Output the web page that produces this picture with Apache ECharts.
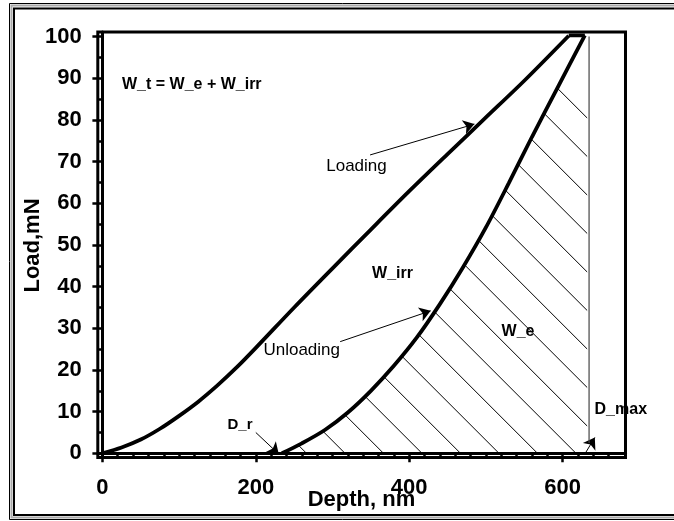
<!DOCTYPE html>
<html><head><meta charset="utf-8">
<script src="https://cdn.jsdelivr.net/npm/echarts@6/dist/echarts.min.js"></script>
<style>html,body{margin:0;padding:0;background:#fff}#c{width:674px;height:521px}</style>
</head><body><div id="c"></div>
<script>
// ---- data ----
const loadingDepth = [0, 25, 50, 75, 100, 125, 150, 175, 200, 250, 300, 350, 400, 450, 500, 550, 608];
const loadingLoad  = [0, 1.4, 3.3, 5.9, 9.0, 12.4, 16.3, 20.6, 25.3, 35.0, 44.4, 53.7, 62.9, 71.8, 80.6, 89.4, 100.2];
const holdDepth = [608, 629];
const holdLoad  = [100.3, 100.3];
const unloadingDepth = [234, 260, 290, 320, 350, 380, 410, 440, 470, 500, 530, 560, 595, 629];
const unloadingLoad  = [0, 2.4, 5.6, 9.8, 15.0, 21.0, 27.8, 35.8, 44.6, 54.2, 64.9, 75.9, 88.3, 100.3];
const dMaxDepth = [634.5, 634.5];
const dMaxLoad  = [100, 2.5];
const hatchTopLoad = 88.3;
const hatchRightDepth = 632;
const xMajorTicks = [0, 200, 400, 600];
const xMinorTicks = [0,20,40,60,80,100,120,140,160,180,200,220,240,260,280,300,320,340,360,380,400,420,440,460,480,500,520,540,560,580,600,620,640,660];
const yMajorTicks = [0,10,20,30,40,50,60,70,80,90,100];
const yMinorTicks = [0,5,10,15,20,25,30,35,40,45,50,55,60,65,70,75,80,85,90,95,100];
// annotation arrows: [fromDepth, fromLoad, toDepth, toLoad]
const arrowLoading   = [349, 71.6, 485, 79.0];
const arrowUnloading = [310, 26.8, 428, 34.2];
const arrowDr        = [200, 5.0, 230, -0.2];
const arrowDmax      = [630.5, 0.3, 642, 3.8];

const FONT = '"Liberation Sans", Arial, sans-serif';
const zip = (a, b) => a.map((v, i) => [v, b[i]]);

// hatch boundary: unloading curve up to hatchTopLoad, then right edge
const hatchPts = zip(unloadingDepth, unloadingLoad).filter(p => p[1] <= hatchTopLoad)
  .concat([[hatchRightDepth, hatchTopLoad], [hatchRightDepth, -0.3], [unloadingDepth[0], -0.3]]);

function makeHatch(spacing, phase) {
  const size = Math.round(spacing * 2);
  const cv = document.createElement('canvas');
  cv.width = size; cv.height = size;
  const ctx = cv.getContext('2d');
  ctx.strokeStyle = '#000'; ctx.lineWidth = 1;
  for (let k = -4; k <= 4; k++) {
    const o = phase + k * spacing;
    ctx.beginPath(); ctx.moveTo(o - 10, -10); ctx.lineTo(o + size + 10, size + 10); ctx.stroke();
  }
  return cv;
}
const hatchTile = makeHatch(38.5, 7.2);

const chart = echarts.init(document.getElementById('c'), null, {renderer: 'canvas'});
const axisLabelStyle = {fontSize: 22, fontWeight: 'bold', color: '#000', fontFamily: FONT};
const arrowLines = [arrowLoading, arrowUnloading, arrowDr, arrowDmax].map(a => [{coord: [a[0], a[1]]}, {coord: [a[2], a[3]]}]);

const lineSeries = (depth, load, w, color, smooth) => ({
  type: 'line', data: zip(depth, load), symbol: 'none', smooth: smooth,
  lineStyle: {color: color, width: w}, z: 5, silent: true
});

chart.setOption({
  animation: false,
  backgroundColor: '#fff',
  grid: {left: 97.8, right: 48.5, top: 32, bottom: 63.5, show: true, borderColor: '#000', borderWidth: 3, backgroundColor: 'transparent'},
  xAxis: [
    {type: 'value', min: -6, max: 682, position: 'bottom',
     axisLine: {lineStyle: {color: '#000', width: 3}},
     axisTick: {customValues: xMajorTicks, length: 9, lineStyle: {color: '#000', width: 2.5}},
     axisLabel: {customValues: xMajorTicks, margin: 19, ...axisLabelStyle},
     splitLine: {show: false}},
    {type: 'value', min: -6, max: 682, position: 'bottom',
     axisLine: {show: false},
     axisTick: {customValues: xMinorTicks, length: 5, lineStyle: {color: '#000', width: 2.5}},
     axisLabel: {show: false}, splitLine: {show: false}}
  ],
  yAxis: [
    {type: 'value', min: -1, max: 101.1, position: 'left',
     axisLine: {lineStyle: {color: '#000', width: 3}},
     axisTick: {customValues: yMajorTicks, length: 10, lineStyle: {color: '#000', width: 2.5}},
     axisLabel: {customValues: yMajorTicks, margin: 16, ...axisLabelStyle},
     splitLine: {show: false}},
    {type: 'value', min: -1, max: 101.1, position: 'left',
     axisLine: {show: false},
     axisTick: {customValues: yMinorTicks, length: 5, lineStyle: {color: '#000', width: 2.5}},
     axisLabel: {show: false}, splitLine: {show: false}}
  ],
  series: [
    {type: 'custom', data: [[0, 0]], z: 1, silent: true, clip: true,
     renderItem: function (params, api) {
       const pts = hatchPts.map(p => api.coord(p));
       return {type: 'polygon', shape: {points: pts, smooth: 0}, style: {fill: {image: hatchTile, repeat: 'repeat'}, stroke: null}};
     }},
    lineSeries(loadingDepth, loadingLoad, 3.8, '#000', 0.3),
    lineSeries(holdDepth, holdLoad, 3.8, '#000', false),
    lineSeries(unloadingDepth, unloadingLoad, 3.8, '#000', 0.3),
    Object.assign(lineSeries(dMaxDepth, dMaxLoad, 1.2, '#444', false), {
      markLine: {silent: true, symbol: ['none', 'arrow'], symbolSize: 11,
        label: {show: false}, lineStyle: {color: '#000', width: 1, type: 'solid'},
        emphasis: {disabled: true}, data: arrowLines}
    })
  ],
  graphic: [
    {type: 'rect', silent: true, shape: {x: 9.5, y: 3.5, width: 700, height: 516}, style: {fill: null, stroke: '#000', lineWidth: 1}},
    {type: 'rect', silent: true, shape: {x: 11.5, y: 5.5, width: 700, height: 512}, style: {fill: null, stroke: '#aaa', lineWidth: 2}},
    {type: 'rect', silent: true, shape: {x: 14, y: 8.5, width: 700, height: 506.5}, style: {fill: null, stroke: '#000', lineWidth: 2}},
    {type: 'text', silent: true, x: 122, y: 85, style: {text: 'W_t = W_e + W_irr', font: 'bold 16px ' + FONT, fill: '#000', align: 'left', verticalAlign: 'middle'}},
    {type: 'text', silent: true, x: 356.5, y: 166, style: {text: 'Loading', font: '17px ' + FONT, fill: '#000', align: 'center', verticalAlign: 'middle'}},
    {type: 'text', silent: true, x: 301.7, y: 350.3, style: {text: 'Unloading', font: '17px ' + FONT, fill: '#000', align: 'center', verticalAlign: 'middle'}},
    {type: 'text', silent: true, x: 392.5, y: 274, style: {text: 'W_irr', font: 'bold 16px ' + FONT, fill: '#000', align: 'center', verticalAlign: 'middle'}},
    {type: 'text', silent: true, x: 518, y: 331.7, style: {text: 'W_e', font: 'bold 16px ' + FONT, fill: '#000', align: 'center', verticalAlign: 'middle'}},
    {type: 'text', silent: true, x: 240, y: 424.7, style: {text: 'D_r', font: 'bold 15px ' + FONT, fill: '#000', align: 'center', verticalAlign: 'middle'}},
    {type: 'text', silent: true, x: 620.8, y: 409.5, style: {text: 'D_max', font: 'bold 16px ' + FONT, fill: '#000', align: 'center', verticalAlign: 'middle'}},
    {type: 'text', silent: true, x: 361.5, y: 500, style: {text: 'Depth, nm', font: 'bold 22px ' + FONT, fill: '#000', align: 'center', verticalAlign: 'middle'}},
    {type: 'text', silent: true, x: 33, y: 245.5, rotation: Math.PI / 2, style: {text: 'Load,mN', font: 'bold 22px ' + FONT, fill: '#000', align: 'center', verticalAlign: 'middle'}}
  ]
});
</script></body></html>
